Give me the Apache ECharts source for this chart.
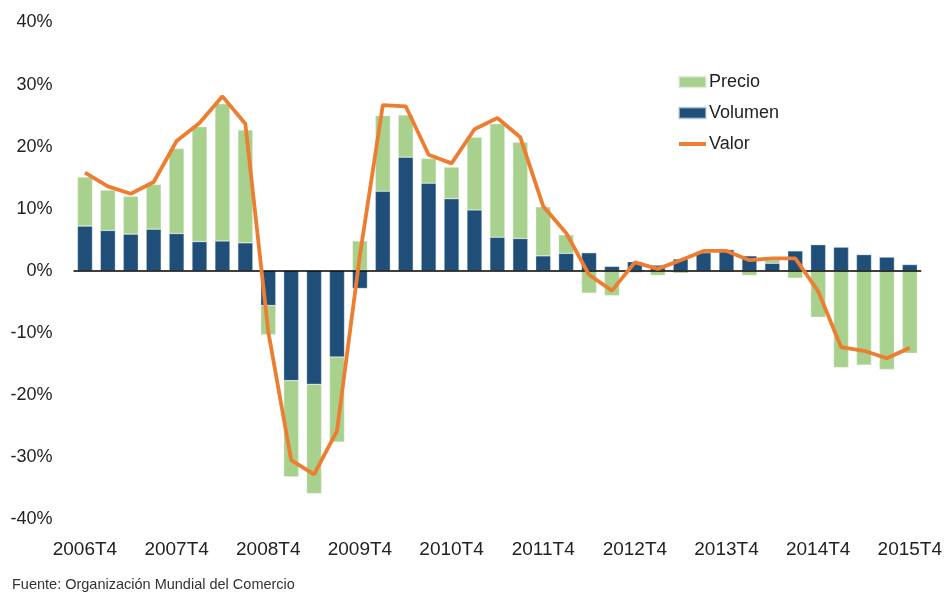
<!DOCTYPE html>
<html>
<head>
<meta charset="utf-8">
<script src="https://cdn.jsdelivr.net/npm/echarts@6/dist/echarts.min.js"></script>
<style>
  html, body { margin: 0; padding: 0; background: #fff; }
  #main { width: 945px; height: 594px; }
</style>
</head>
<body>
<div id="main"></div>
<script>
// trimestres 2006T4 .. 2015T4
const quarters = [];
for (let y = 2006; y <= 2015; y++) {
  for (let q = 1; q <= 4; q++) {
    if (y === 2006 && q < 4) continue;
    quarters.push(y + 'T' + q);
  }
}

const volumen = [7.2, 6.5, 5.9, 6.7, 6.0, 4.7, 4.8, 4.5,
  -5.6, -17.7, -18.3, -13.9, -2.85, 12.8, 18.3, 14.1,
  11.6, 9.8, 5.4, 5.2, 2.4, 2.8, 2.9, 0.7,
  1.45, 0.9, 1.9, 2.9, 3.4, 2.4, 1.2, 3.2,
  4.2, 3.8, 2.6, 2.2, 1.0];

const precio = [7.9, 6.5, 6.1, 7.2, 13.7, 18.5, 22.1, 18.2,
  -4.7, -15.5, -17.6, -13.7, 4.8, 12.2, 6.8, 4.0,
  5.1, 11.7, 18.3, 15.5, 7.9, 3.0, -3.6, -4.0,
  -0.3, -0.75, -0.4, 0.3, -0.25, -0.75, 0.55, -1.2,
  -7.5, -15.6, -15.2, -15.9, -13.3];

const valor = [15.8, 13.6, 12.4, 14.3, 20.9, 23.8, 28.1, 23.7,
  -9.8, -30.5, -32.8, -25.8, 2.5, 26.7, 26.5, 18.7,
  17.3, 22.8, 24.6, 21.5, 10.4, 6.1, -0.65, -3.2,
  1.35, 0.3, 1.7, 3.2, 3.2, 1.7, 2.0, 2.0,
  -3.3, -12.3, -12.9, -14.1, -12.4];

const font = '"Liberation Sans", "Open Sans", sans-serif';

const chart = echarts.init(document.getElementById('main'));

// linea gruesa centrada para la leyenda de Valor
const lineIcon = 'path://M0,0 L0.01,0 M0,3.5 L27,3.5 L27,7.5 L0,7.5 Z M27,11 L26.99,11';

const option = {
  backgroundColor: '#ffffff',
  animation: false,
  textStyle: { fontFamily: font },
  grid: { left: 73.5, right: 22.5, top: 22.5, bottom: 75 },
  legend: {
    orient: 'vertical',
    left: 673,
    top: 68,
    itemWidth: 27,
    itemHeight: 11,
    itemGap: 13,
    textStyle: { fontSize: 18, color: '#222', fontFamily: font, padding: [0, 0, 0, -2] },
    data: [
      { name: 'Precio', icon: 'rect' },
      { name: 'Volumen', icon: 'rect' },
      { name: 'Valor', icon: lineIcon, itemStyle: { color: '#ED7D31', borderWidth: 0 }, lineStyle: { width: 0 } }
    ]
  },
  xAxis: {
    type: 'category',
    data: quarters,
    axisLine: { show: false, onZero: false },
    axisTick: { show: false },
    axisLabel: {
      interval: 3,
      margin: 21,
      fontSize: 19,
      color: '#222',
      fontFamily: font,
      formatter: function (v) { return v.slice(0, 4) + 'T4'; }
    },
    splitLine: { show: false }
  },
  yAxis: {
    type: 'value',
    min: -40,
    max: 40,
    interval: 10,
    axisLine: { show: false },
    axisTick: { show: false },
    splitLine: { show: false },
    axisLabel: {
      margin: 21,
      fontSize: 18,
      color: '#222',
      fontFamily: font,
      formatter: '{value}%'
    }
  },
  series: [
    {
      name: 'Volumen',
      type: 'bar',
      stack: 'total',
      barWidth: 15,
      data: volumen,
      itemStyle: { color: '#1F4E79', borderColor: 'rgba(200,215,230,0.6)', borderWidth: 0.6 },
      markLine: {
        silent: true,
        symbol: 'none',
        label: { show: false },
        lineStyle: { color: '#000', width: 1.5, type: 'solid' },
        data: [{ yAxis: 0 }]
      }
    },
    {
      name: 'Precio',
      type: 'bar',
      stack: 'total',
      barWidth: 15,
      data: precio,
      itemStyle: { color: '#A9D18E', borderColor: 'rgba(230,240,225,0.6)', borderWidth: 0.6 }
    },
    {
      name: 'Valor',
      type: 'line',
      data: valor,
      symbol: 'none',
      z: 5,
      lineStyle: { color: '#ED7D31', width: 3.8 },
      itemStyle: { color: '#ED7D31' }
    }
  ],
  graphic: [
    {
      type: 'text',
      left: 12,
      top: 577,
      style: {
        text: 'Fuente: Organización Mundial del Comercio',
        fontSize: 14.5,
        fill: '#333',
        fontFamily: font
      }
    }
  ]
};

chart.setOption(option, true);
</script>
</body>
</html>
